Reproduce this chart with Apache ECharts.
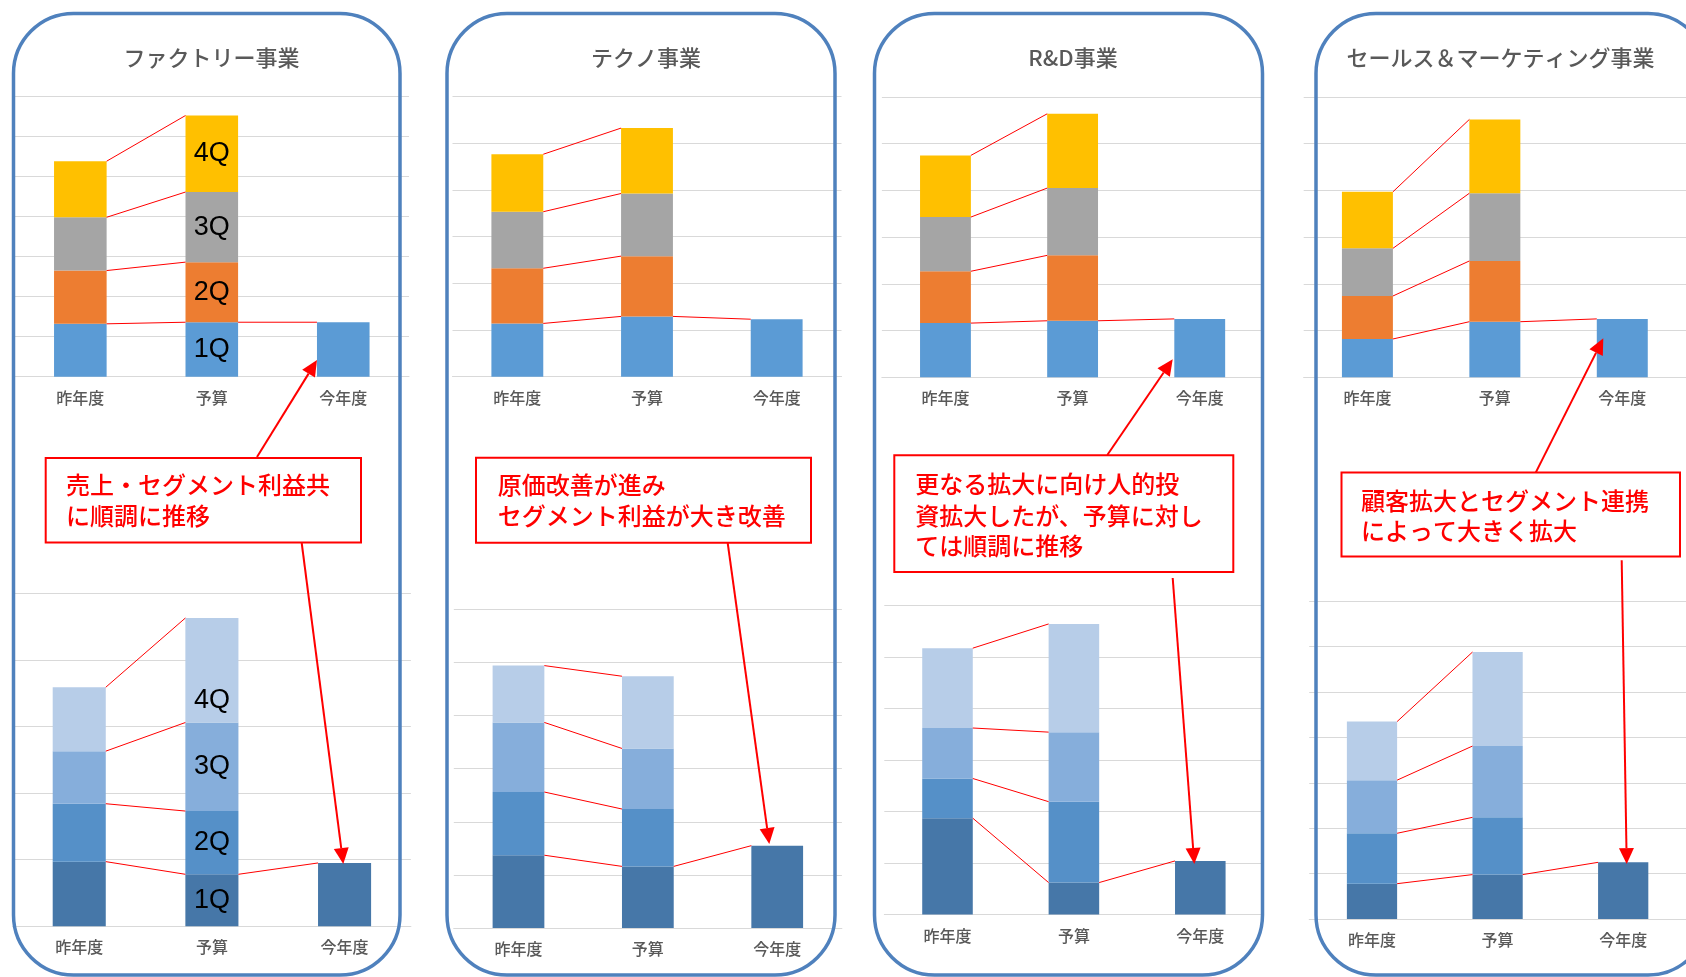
<!DOCTYPE html>
<html>
<head>
<meta charset="utf-8">
<script src="https://cdn.jsdelivr.net/npm/echarts@6/dist/echarts.min.js"></script>
<style>
  html, body { margin: 0; padding: 0; background: #ffffff; }
  #chart { width: 1686px; height: 977px; }
</style>
</head>
<body>
<div id="chart"></div>
<script>
// ---- data ----
const categories = ['昨年度', '予算', '今年度'];
const quarters = ['1Q', '2Q', '3Q', '4Q'];
const panelTitles = ['ファクトリー事業', 'テクノ事業', 'R&D事業', 'セールス＆マーケティング事業'];

// 売上 (per quarter, per business)
const salesLastYear = [
  [1.32, 1.33, 1.33, 1.40],
  [1.14, 1.18, 1.21, 1.23],
  [1.16, 1.11, 1.16, 1.32],
  [0.82, 0.92, 1.02, 1.21]
];
const salesBudget = [
  [1.36, 1.50, 1.75, 1.91],
  [1.29, 1.29, 1.34, 1.40],
  [1.21, 1.40, 1.44, 1.59],
  [1.19, 1.30, 1.45, 1.58]
];
const salesThisYear = [1.36, 1.23, 1.25, 1.25];

// セグメント利益 (per quarter, per business)
const profitLastYear = [
  [0.97, 0.87, 0.79, 0.96],
  [1.37, 1.19, 1.31, 1.07],
  [1.87, 0.77, 0.98, 1.55],
  [0.78, 1.11, 1.17, 1.29]
];
const profitBudget = [
  [0.78, 0.95, 1.33, 1.57],
  [1.16, 1.08, 1.14, 1.36],
  [0.62, 1.57, 1.35, 2.10],
  [0.98, 1.26, 1.57, 2.07]
];
const profitThisYear = [0.95, 1.55, 1.04, 1.25];

const salesAxisMax = [7, 6, 6, 6];
const profitAxisMax = [5, 6, 6, 7];

const comments = [
  ['売上・セグメント利益共', 'に順調に推移'],
  ['原価改善が進み', 'セグメント利益が大き改善'],
  ['更なる拡大に向け人的投', '資拡大したが、予算に対し', 'ては順調に推移'],
  ['顧客拡大とセグメント連携', 'によって大きく拡大']
];

// ---- layout ----
const salesGrids = [
  { left: 14.6, top: 96.3, width: 394.4, height: 280.4 },
  { left: 452.5, top: 96.3, width: 389, height: 280.4 },
  { left: 881.9, top: 97, width: 381.4, height: 280.3 },
  { left: 1303.7, top: 97, width: 393.3, height: 280.3 }
];
const profitGrids = [
  { left: 12.9, top: 593.4, width: 398, height: 332.8 },
  { left: 453.8, top: 609.3, width: 388.1, height: 318.7 },
  { left: 884.3, top: 605.4, width: 379.2, height: 309.1 },
  { left: 1309.2, top: 601.2, width: 390.8, height: 317.9 }
];
const panelFrames = [
  { x: 13.5, w: 386.5 },
  { x: 447, w: 388 },
  { x: 874.5, w: 388 },
  { x: 1316, w: 392 }
];
const titleCenters = [211.5, 646, 1073, 1500.5];
const boxes = [
  { x: 45.7, y: 458, w: 315.3, h: 84.6, tx: 66, lines: [485, 516.2] },
  { x: 476, y: 457.7, w: 335, h: 85, tx: 497.7, lines: [484.8, 515.9] },
  { x: 894.3, y: 455.2, w: 339, h: 116.8, tx: 915.3, lines: [483.6, 515.4, 546.1] },
  { x: 1341.5, y: 472.6, w: 338.5, h: 83.8, tx: 1361, lines: [500.8, 530.5] }
];
const arrows = [
  [257, 457, 317, 360], [301.7, 543, 343.3, 864],
  [727.7, 543, 769.3, 844],
  [1107.3, 455, 1172.7, 359.3], [1172.7, 578, 1194.3, 864],
  [1535.7, 472.6, 1603.3, 338.3], [1621.7, 560.3, 1626.7, 864]
];

const salesColors = ['#5b9bd5', '#ed7d31', '#a5a5a5', '#ffc000'];
const profitColors = ['#4677a8', '#5590c8', '#86aedb', '#b7cde8'];
const JP = '"Noto Sans CJK JP", sans-serif';
const BAR_RATIO = 0.4;

const grids = [], xAxes = [], yAxes = [], series = [];

function cumulative(arr) {
  const out = []; let s = 0;
  arr.forEach(v => { s += v; out.push(+s.toFixed(4)); });
  return out;
}

function addChart(gridDef, axisMax, last, budget, current, colors, withLabels, labelBottom4Q) {
  const gi = grids.length;
  grids.push(Object.assign({ containLabel: false }, gridDef));
  xAxes.push({
    type: 'category', gridIndex: gi, data: categories,
    axisLine: { show: true, lineStyle: { color: '#d9d9d9', width: 1 } },
    axisTick: { show: false },
    axisLabel: { color: '#595959', fontSize: 16, margin: 13, interval: 0, fontFamily: JP, fontWeight: 500 }
  });
  yAxes.push({
    type: 'value', gridIndex: gi, min: 0, max: axisMax, interval: 1,
    axisLabel: { show: false }, axisLine: { show: false }, axisTick: { show: false },
    splitLine: { lineStyle: { color: '#d9d9d9', width: 1 } }
  });
  quarters.forEach((q, k) => {
    const budgetItem = { value: budget[k] };
    if (withLabels) {
      budgetItem.label = {
        show: true,
        position: (labelBottom4Q && k === 3) ? 'insideBottom' : 'inside',
        distance: 8,
        formatter: q, color: '#000000', fontSize: 27,
        fontFamily: '"Liberation Sans", Arial, sans-serif'
      };
    }
    series.push({
      type: 'bar', name: q, xAxisIndex: gi, yAxisIndex: gi,
      stack: 'stack' + gi, barWidth: (BAR_RATIO * 100) + '%',
      itemStyle: { color: colors[k] },
      data: [last[k], budgetItem, k === 0 ? current : '-'],
      z: 2, silent: true
    });
  });
  // connecting lines between stacked segment tops
  const cl = cumulative(last), cb = cumulative(budget);
  const links = [];
  for (let k = 0; k < 4; k++) links.push([0, cl[k], 1, cb[k]]);
  links.push([1, cb[0], 2, current]);
  series.push({
    type: 'custom', xAxisIndex: gi, yAxisIndex: gi, silent: true, z: 5,
    encode: { x: [0, 2], y: [1, 3] },
    data: links,
    renderItem: function (params, api) {
      const half = api.size([1, 0])[0] * BAR_RATIO / 2;
      const p1 = api.coord([api.value(0), api.value(1)]);
      const p2 = api.coord([api.value(2), api.value(3)]);
      return {
        type: 'line',
        shape: { x1: p1[0] + half, y1: p1[1], x2: p2[0] - half, y2: p2[1] },
        style: { stroke: '#ff0000', lineWidth: 1 }
      };
    }
  });
}

for (let p = 0; p < 4; p++) {
  addChart(salesGrids[p], salesAxisMax[p], salesLastYear[p], salesBudget[p], salesThisYear[p], salesColors, p === 0, false);
  addChart(profitGrids[p], profitAxisMax[p], profitLastYear[p], profitBudget[p], profitThisYear[p], profitColors, p === 0, true);
}

// ---- annotations ----
const graphics = [];
panelFrames.forEach(f => {
  graphics.push({
    type: 'rect', z: 100, silent: true,
    shape: { x: f.x, y: 13.5, width: f.w, height: 961.5, r: 60 },
    style: { fill: 'none', stroke: '#4f81bd', lineWidth: 3.5 }
  });
});
panelTitles.forEach((t, i) => {
  graphics.push({
    type: 'text', z: 100, silent: true, x: titleCenters[i], y: 58,
    style: { text: t, fill: '#595959', font: '500 22px ' + JP, align: 'center', verticalAlign: 'middle' }
  });
});
boxes.forEach((b, i) => {
  graphics.push({
    type: 'rect', z: 100, silent: true,
    shape: { x: b.x, y: b.y, width: b.w, height: b.h },
    style: { fill: '#ffffff', stroke: '#ff0000', lineWidth: 2 }
  });
  comments[i].forEach((line, j) => {
    graphics.push({
      type: 'text', z: 101, silent: true, x: b.tx, y: b.lines[j],
      style: { text: line, fill: '#ff0000', font: '500 24px ' + JP, align: 'left', verticalAlign: 'middle' }
    });
  });
});
arrows.forEach(a => {
  const [x1, y1, x2, y2] = a;
  const dx = x2 - x1, dy = y2 - y1, len = Math.hypot(dx, dy);
  const ux = dx / len, uy = dy / len;
  const headLen = 16, headHalf = 7.5;
  const bx = x2 - ux * headLen, by = y2 - uy * headLen;
  graphics.push({
    type: 'line', z: 102, silent: true,
    shape: { x1: x1, y1: y1, x2: bx, y2: by },
    style: { stroke: '#ff0000', lineWidth: 2 }
  });
  graphics.push({
    type: 'polygon', z: 102, silent: true,
    shape: { points: [[x2, y2], [bx - uy * headHalf, by + ux * headHalf], [bx + uy * headHalf, by - ux * headHalf]] },
    style: { fill: '#ff0000' }
  });
});

const chart = echarts.init(document.getElementById('chart'), null, { renderer: 'canvas' });
chart.setOption({
  animation: false,
  backgroundColor: '#ffffff',
  grid: grids,
  xAxis: xAxes,
  yAxis: yAxes,
  series: series,
  graphic: { elements: graphics }
});
</script>
</body>
</html>
